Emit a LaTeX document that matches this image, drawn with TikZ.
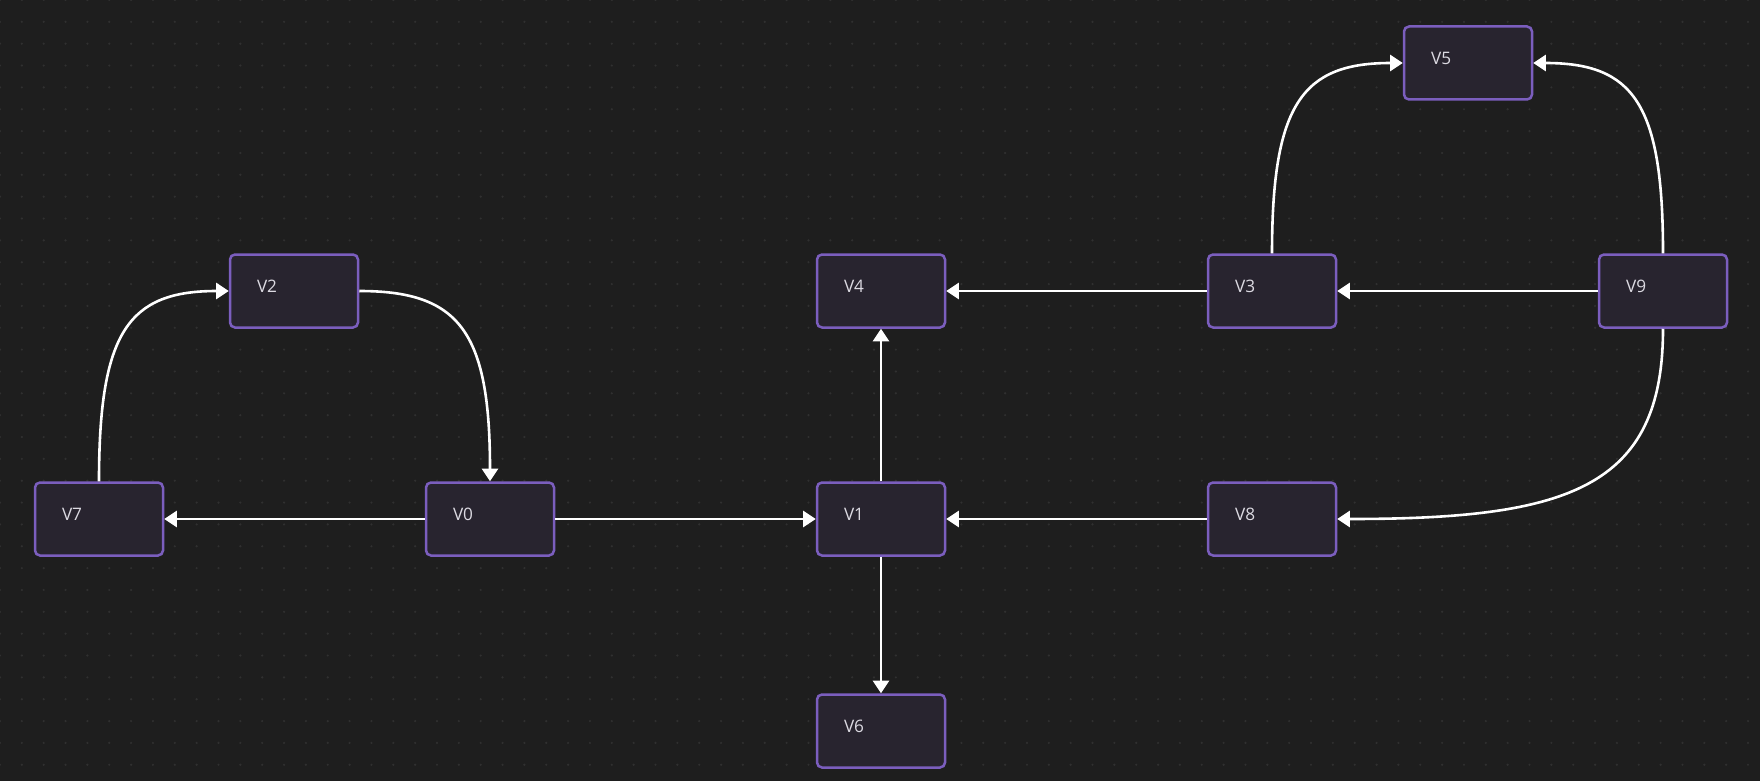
\documentclass[tikz,border=0pt]{standalone}
\usepackage{fontspec}
\setmainfont{Open Sans}
\usetikzlibrary{arrows.meta}
\definecolor{bgc}{HTML}{1E1E1E}
\definecolor{dotc}{HTML}{303030}
\definecolor{boxfill}{HTML}{28242F}
\definecolor{boxline}{HTML}{7B5EBE}
\definecolor{txtc}{HTML}{DCDAE2}
\tikzset{
  vertex/.style={draw=boxline, fill=boxfill, line width=1.25pt, rounded corners=2.5pt,
    minimum height=36.5pt, text width=37pt, inner xsep=13.5pt, align=left,
    text depth=4.8pt, text=txtc, font=\fontsize{8.6}{10}\selectfont},
  edge/.style={draw=white, line width=1.3pt, -{Triangle[length=6.3pt,width=8pt]}}
}
\begin{document}
\begin{tikzpicture}[x=0.5pt,y=-0.5pt]
      \useasboundingbox (0,0) rectangle (1760,781);
      \fill[bgc] (0,0) rectangle (1760,781);
      \foreach \i in {0,...,80}
        \foreach \j in {0,...,35}
          \fill[dotc] (\i*21.85,\j*21.85) circle (0.6pt);
      \draw
        (490,519) node[vertex] (0){V0}
        (881,519) node[vertex] (1){V1}
        (294,291) node[vertex] (2){V2}
        (1272,291) node[vertex] (3){V3}
        (881,291) node[vertex] (4){V4}
        (1468,63) node[vertex] (5){V5}
        (881,731) node[vertex] (6){V6}
        (99,519) node[vertex] (7){V7}
        (1272,519) node[vertex] (8){V8}
        (1663,291) node[vertex] (9){V9};
      \begin{scope}[edge]
        \draw (0) to (7);
        \draw (0) to (1);
        \draw (1) to (4);
        \draw (1) to (6);
        \draw (3) to (4);
        \draw (9) to (3);
        \draw (8) to (1);
        \draw (7.north) .. controls +(0,-150) and +(-100,0) .. (2.west);
        \draw (2.east) .. controls +(100,0) and +(0,-150) .. (0.north);
        \draw (3.north) .. controls +(0,-150) and +(-100,0) .. (5.west);
        \draw (9.north) .. controls +(0,-150) and +(100,0) .. (5.east);
        \draw (9.south) .. controls +(0,160) and +(230,0) .. (8.east);
      \end{scope}
    \end{tikzpicture}
\end{document}
